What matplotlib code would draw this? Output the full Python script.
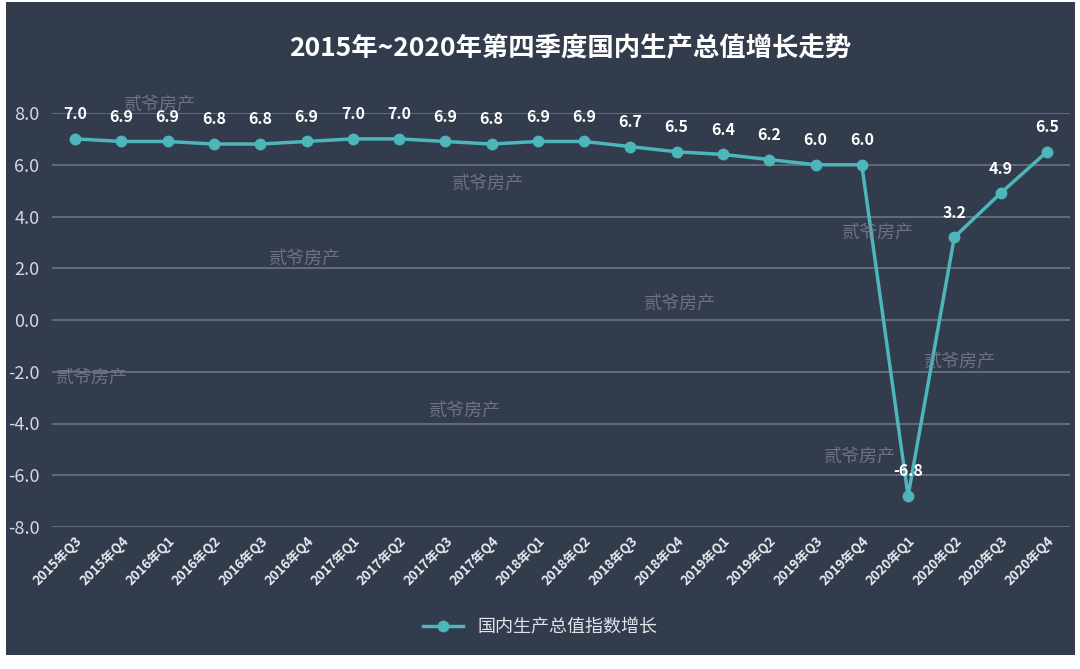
import matplotlib
matplotlib.use("Agg")
import matplotlib.pyplot as plt
from matplotlib.patches import Rectangle

plt.rcParams['font.family'] = ['Noto Sans CJK SC', 'DejaVu Sans']

# 数据
quarters = ['2015年Q3', '2015年Q4', '2016年Q1', '2016年Q2', '2016年Q3', '2016年Q4',
            '2017年Q1', '2017年Q2', '2017年Q3', '2017年Q4', '2018年Q1', '2018年Q2',
            '2018年Q3', '2018年Q4', '2019年Q1', '2019年Q2', '2019年Q3', '2019年Q4',
            '2020年Q1', '2020年Q2', '2020年Q3', '2020年Q4']
gdp_growth = [7.0, 6.9, 6.9, 6.8, 6.8, 6.9, 7.0, 7.0, 6.9, 6.8, 6.9, 6.9,
              6.7, 6.5, 6.4, 6.2, 6.0, 6.0, -6.8, 3.2, 4.9, 6.5]
y_ticks = [-8, -6, -4, -2, 0, 2, 4, 6, 8]

# 水印位置 (像素)
wm_pos = [(160, 104), (488, 183), (305, 258), (680, 303), (878, 232),
          (92, 377), (465, 410), (960, 361), (860, 456)]

bg = '#333c4d'
line_c = '#4cb6bb'

W, H = 1080, 669
fig = plt.figure(figsize=(W / 100, H / 100), dpi=100)
fig.patch.set_facecolor('white')
fig.patches.append(Rectangle((6 / W, 14 / H), (1075 - 6) / W, (667 - 14) / H,
                             transform=fig.transFigure, facecolor=bg,
                             edgecolor='none', zorder=-5))

ax = fig.add_axes([52 / W, 1 - 527 / H, (1070 - 52) / W, (527 - 113) / H])
ax.patch.set_alpha(0)

x = list(range(len(quarters)))
ax.plot(x, gdp_growth, color=line_c, lw=2.5, marker='o', ms=7.5,
        label='国内生产总值指数增长', zorder=3, clip_on=False)

for xi, v in zip(x, gdp_growth):
    ax.annotate(f'{v:.1f}', (xi, v), xytext=(0, 12), textcoords='offset points',
                ha='center', va='bottom', color='white', fontsize=11.5,
                fontweight='bold', zorder=4)

ax.set_xlim(-0.5, len(quarters) - 0.5)
ax.set_ylim(-8, 8)
ax.set_yticks(y_ticks)
ax.set_yticklabels([f'{t:.1f}' for t in y_ticks], color='#d4d8de', fontsize=13)
ax.set_xticks(x)
ax.set_xticklabels(quarters, rotation=45, ha='right', rotation_mode='anchor',
                   color='#e8eaee', fontsize=9.5, fontweight='bold')
ax.tick_params(length=0, pad=5)
ax.tick_params(axis='y', pad=9)
ax.grid(axis='y', color='#6b7482', lw=1.2)
ax.set_axisbelow(True)
for s in ax.spines.values():
    s.set_visible(False)

fig.text(570 / W, 1 - 48 / H, '2015年~2020年第四季度国内生产总值增长走势',
         ha='center', va='center', color='white', fontsize=19, fontweight='bold')

for px, py in wm_pos:
    fig.text(px / W, 1 - py / H, '贰爷房产', ha='center', va='center',
             color='#7b818c', fontsize=13, alpha=0.8, zorder=1)

leg = fig.legend(loc='center', bbox_to_anchor=(540 / W, 1 - 627 / H), frameon=False,
                 fontsize=13, labelcolor='#e0e3e8', handlelength=2.2)

fig.savefig('out.png', dpi=100, facecolor=fig.get_facecolor())
